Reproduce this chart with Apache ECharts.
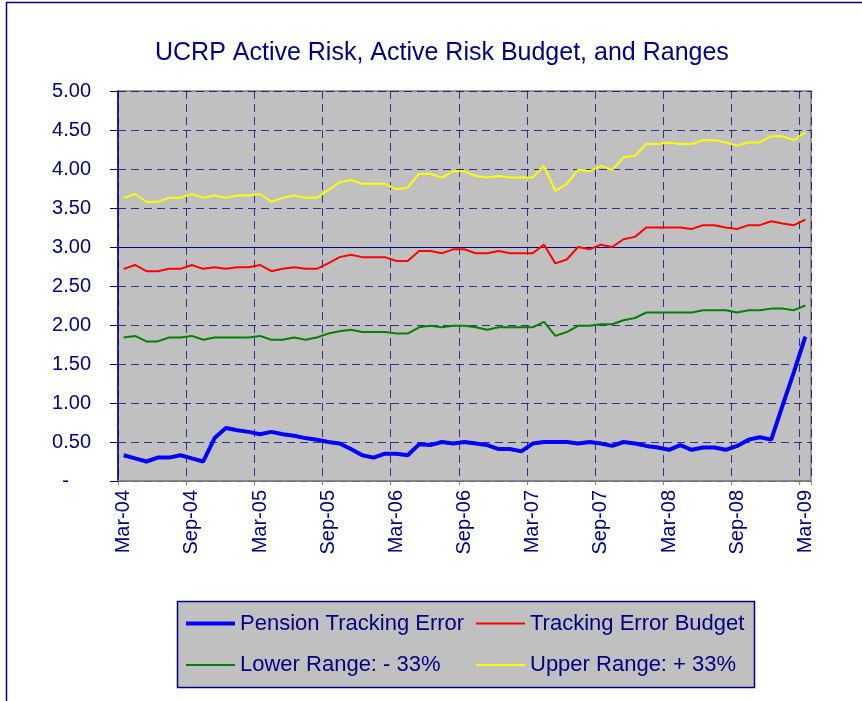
<!DOCTYPE html>
<html>
<head>
<meta charset="utf-8">
<script src="https://cdn.jsdelivr.net/npm/echarts@6/dist/echarts.min.js"></script>
<style>
html,body{margin:0;padding:0;background:#fff;}
#c{width:862px;height:701px;}
</style>
</head>
<body>
<div id="c"></div>
<script>
var titleText = 'UCRP Active Risk, Active Risk Budget, and Ranges';

var months = ['Mar-04','Apr-04','May-04','Jun-04','Jul-04','Aug-04','Sep-04','Oct-04','Nov-04','Dec-04','Jan-05','Feb-05',
  'Mar-05','Apr-05','May-05','Jun-05','Jul-05','Aug-05','Sep-05','Oct-05','Nov-05','Dec-05','Jan-06','Feb-06',
  'Mar-06','Apr-06','May-06','Jun-06','Jul-06','Aug-06','Sep-06','Oct-06','Nov-06','Dec-06','Jan-07','Feb-07',
  'Mar-07','Apr-07','May-07','Jun-07','Jul-07','Aug-07','Sep-07','Oct-07','Nov-07','Dec-07','Jan-08','Feb-08',
  'Mar-08','Apr-08','May-08','Jun-08','Jul-08','Aug-08','Sep-08','Oct-08','Nov-08','Dec-08','Jan-09','Feb-09',
  'Mar-09'];

var pensionTrackingError = [0.33,0.29,0.25,0.30,0.30,0.33,0.29,0.25,0.55,0.68,0.65,0.63,
  0.60,0.63,0.60,0.58,0.55,0.53,0.50,0.48,0.41,0.33,0.30,0.35,
  0.35,0.33,0.47,0.46,0.50,0.48,0.50,0.48,0.46,0.41,0.41,0.38,
  0.48,0.50,0.50,0.50,0.48,0.50,0.48,0.45,0.50,0.48,0.45,0.43,
  0.40,0.46,0.40,0.43,0.43,0.40,0.45,0.53,0.56,0.53,0.97,1.40,
  1.85];

var trackingErrorBudget = [2.72,2.77,2.69,2.69,2.72,2.72,2.77,2.72,2.74,2.72,2.74,2.74,
  2.77,2.69,2.72,2.74,2.72,2.72,2.79,2.87,2.90,2.87,2.87,2.87,
  2.82,2.82,2.95,2.95,2.92,2.97,2.97,2.92,2.92,2.95,2.92,2.92,
  2.92,3.03,2.79,2.84,3.00,2.97,3.03,3.00,3.10,3.13,3.25,3.25,
  3.25,3.25,3.23,3.28,3.28,3.25,3.23,3.28,3.28,3.33,3.30,3.28,
  3.35];

var lowerRange = [1.84,1.86,1.79,1.79,1.84,1.84,1.86,1.81,1.84,1.84,1.84,1.84,
  1.86,1.81,1.81,1.84,1.81,1.84,1.89,1.92,1.94,1.91,1.91,1.91,
  1.89,1.89,1.97,1.99,1.97,1.99,1.99,1.97,1.94,1.97,1.97,1.97,
  1.97,2.04,1.86,1.91,1.99,1.99,2.01,2.01,2.06,2.09,2.16,2.16,
  2.16,2.16,2.16,2.19,2.19,2.19,2.16,2.19,2.19,2.21,2.21,2.19,
  2.25];

var upperRange = [3.63,3.68,3.58,3.58,3.63,3.63,3.68,3.63,3.66,3.63,3.66,3.66,
  3.68,3.58,3.63,3.66,3.63,3.63,3.73,3.83,3.86,3.81,3.81,3.81,
  3.74,3.76,3.94,3.94,3.89,3.97,3.97,3.91,3.89,3.91,3.89,3.89,
  3.89,4.04,3.72,3.81,3.99,3.97,4.04,3.99,4.15,4.17,4.32,4.32,
  4.34,4.32,4.32,4.37,4.37,4.34,4.30,4.34,4.34,4.42,4.42,4.37,
  4.47];

var yTickLabels = ['-','0.50','1.00','1.50','2.00','2.50','3.00','3.50','4.00','4.50','5.00'];

var seriesNames = ['Pension Tracking Error','Tracking Error Budget','Lower Range: - 33%','Upper Range: + 33%'];

var NAVY = '#000080';
var AXFONT = 'Liberation Sans, Arial, sans-serif';

function legendItem(name, left, centerY, thick) {
  return {
    orient: 'horizontal', left: left, top: centerY - 10, padding: 0,
    itemWidth: 49, itemHeight: thick, icon: 'rect',
    data: [name],
    textStyle: {color: NAVY, fontSize: 22, fontFamily: AXFONT, lineHeight: 20, height: 20}
  };
}

var chart = echarts.init(document.getElementById('c'), null, {renderer:'canvas'});
chart.setOption({
  backgroundColor: '#ffffff',
  animation: false,
  title: {
    text: titleText, left: 155, top: 41, padding: 0,
    textStyle: {color: NAVY, fontSize: 25, fontWeight: 'normal', fontFamily: AXFONT}
  },
  graphic: [
    {type:'rect', shape:{x:6.5, y:2.5, width:900, height:800}, style:{fill:'none', stroke:NAVY, lineWidth:1.5}, silent:true},
    {type:'rect', shape:{x:177.5, y:601.5, width:577, height:86}, style:{fill:'#C0C0C0', stroke:NAVY, lineWidth:1.5}, silent:true, z:-1}
  ],
  legend: [
    legendItem(seriesNames[0], 186, 622.5, 4),
    legendItem(seriesNames[2], 186, 664, 2),
    legendItem(seriesNames[1], 476, 622.5, 2),
    legendItem(seriesNames[3], 476, 664, 2)
  ],
  grid: {
    left: 118, right: 51, top: 91, bottom: 220, containLabel: false,
    show: true, backgroundColor: '#C0C0C0', borderColor: '#808080', borderWidth: 1.5
  },
  xAxis: {
    type: 'category', data: months, boundaryGap: true,
    axisLine: {show: true, lineStyle: {color: '#808080', width: 1.5}},
    axisTick: {show: true, interval: 5, length: 4, inside: false, lineStyle: {color: '#808080'}},
    axisLabel: {interval: 5, rotate: 90, margin: 9, color: NAVY, fontSize: 20, fontFamily: AXFONT},
    splitLine: {show: true, interval: 5, lineStyle: {color: NAVY, type: [8,5], width: 1, opacity: 0.75}}
  },
  yAxis: {
    type: 'value', min: 0, max: 5, interval: 0.5,
    axisLine: {show: true, lineStyle: {color: NAVY, width: 1.5}},
    axisTick: {show: true, length: 8, lineStyle: {color: NAVY}},
    axisLabel: {
      margin: 27, color: NAVY, fontSize: 20, fontFamily: AXFONT,
      formatter: function (v) {
        var idx = Math.round(v / 0.5);
        var s = yTickLabels[idx];
        if (s === '-') return '{d|-}';
        return s;
      },
      rich: {d: {color: NAVY, fontSize: 20, fontFamily: AXFONT, padding: [0, 22, 0, 0]}}
    },
    splitLine: {show: true, lineStyle: {color: NAVY, type: [8,5], width: 1, opacity: 0.75}}
  },
  series: [
    {
      name: seriesNames[0], type: 'line', data: pensionTrackingError, symbol: 'none', z: 5,
      lineStyle: {color: '#0000FF', width: 4}, itemStyle: {color: '#0000FF'}
    },
    {
      name: seriesNames[1], type: 'line', data: trackingErrorBudget, symbol: 'none', z: 4,
      lineStyle: {color: '#FF0000', width: 2}, itemStyle: {color: '#FF0000'},
      markLine: {silent: true, symbol: ['none','none'], label: {show: false},
        lineStyle: {color: NAVY, type: 'solid', width: 1.2}, data: [{yAxis: 3}], z: 1}
    },
    {
      name: seriesNames[2], type: 'line', data: lowerRange, symbol: 'none', z: 4,
      lineStyle: {color: '#008000', width: 2}, itemStyle: {color: '#008000'}
    },
    {
      name: seriesNames[3], type: 'line', data: upperRange, symbol: 'none', z: 4,
      lineStyle: {color: '#FFFF00', width: 2}, itemStyle: {color: '#FFFF00'}
    }
  ]
});
</script>
</body>
</html>
